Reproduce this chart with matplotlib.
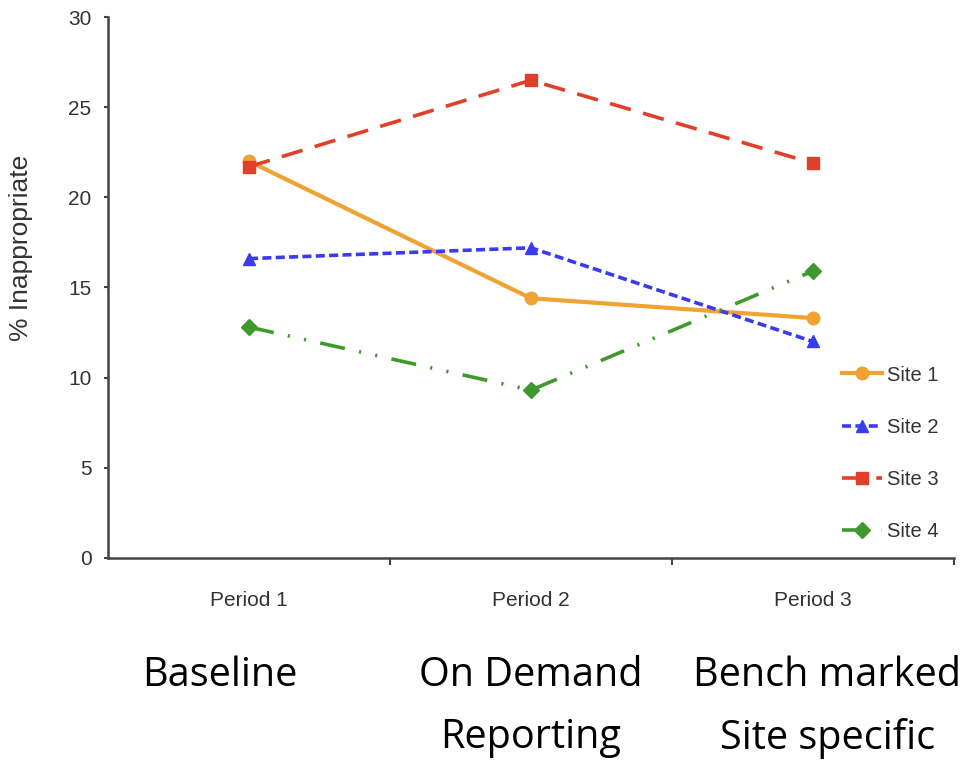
import matplotlib.pyplot as plt

periods = ["Period 1", "Period 2", "Period 3"]
phases = ["Baseline", "On Demand\nReporting", "Bench marked\nSite specific"]
sites = ["Site 1", "Site 2", "Site 3", "Site 4"]

site1 = [22.0, 14.4, 13.3]
site2 = [16.6, 17.2, 12.0]
site3 = [21.7, 26.5, 21.9]
site4 = [12.8, 9.3, 15.9]

yticks = [0, 5, 10, 15, 20, 25, 30]

styles = [
    dict(color="#f0a232", linestyle="-", marker="o", lw=3.0, ms=9),
    dict(color="#3a3af0", linestyle=(0, (2.5, 1.2)), marker="^", lw=2.6, ms=9),
    dict(color="#e0402a", linestyle=(0, (6, 3.5)), marker="s", lw=2.6, ms=8),
    dict(color="#3f9a2e", linestyle=(0, (7, 4, 0.6, 4, 0.6, 4)), marker="D", lw=2.6, ms=8),
]

fig = plt.figure(figsize=(9.74, 7.8), dpi=100)
ax = fig.add_axes([0.111, 0.285, 0.868, 0.693])

x = range(len(periods))
for name, vals, st in zip(sites, [site1, site2, site3, site4], styles):
    ax.plot(x, vals, label=name, color=st["color"], linestyle=st["linestyle"],
            linewidth=st["lw"], marker=st["marker"], markersize=st["ms"],
            markerfacecolor=st["color"], markeredgecolor=st["color"])

ax.set_xlim(-0.5, 2.5)
ax.set_ylim(0, 30)
ax.set_yticks(yticks)
ax.set_xticks(list(x))
ax.set_xticklabels(periods, family="Liberation Sans", fontsize=15, color="#333333")
ax.set_xticks([0.5, 1.5, 2.5], minor=True)
ax.tick_params(axis="x", which="major", length=0, pad=24)
ax.tick_params(axis="x", which="minor", length=5, width=1.5, color="#444444", direction="out")
ax.tick_params(axis="y", length=3, width=1.5, color="#444444", labelsize=15,
               labelcolor="#333333", pad=9)
for lbl in ax.get_yticklabels():
    lbl.set_family("Liberation Sans")

# y label sits a little above the axis midpoint
ax.set_ylabel("% Inappropriate", family="Liberation Sans", fontsize=19,
              color="#333333")
ax.yaxis.set_label_coords(-0.089, 0.573)

for side in ("top", "right"):
    ax.spines[side].set_visible(False)
for side in ("left", "bottom"):
    ax.spines[side].set_color("#444444")
    ax.spines[side].set_linewidth(1.8)

leg = ax.legend(loc="center left", bbox_to_anchor=(0.856, 0.193), frameon=False,
                borderpad=0, handlelength=2.0, handletextpad=0.25, labelspacing=1.65,
                prop={"family": "Liberation Sans", "size": 14.5})
for t in leg.get_texts():
    t.set_color("#333333")

for xi, text in zip(x, phases):
    xf = ax.transData.transform((xi, 0))[0] / fig.bbox.width
    fig.text(xf - (0.03 if xi == 0 else 0) + (0.015 if xi == 2 else 0), 0.16, text,
             ha="center", va="top", family="Open Sans", fontsize=28.5,
             linespacing=1.72, color="black")

fig.savefig("out.png", dpi=100)
